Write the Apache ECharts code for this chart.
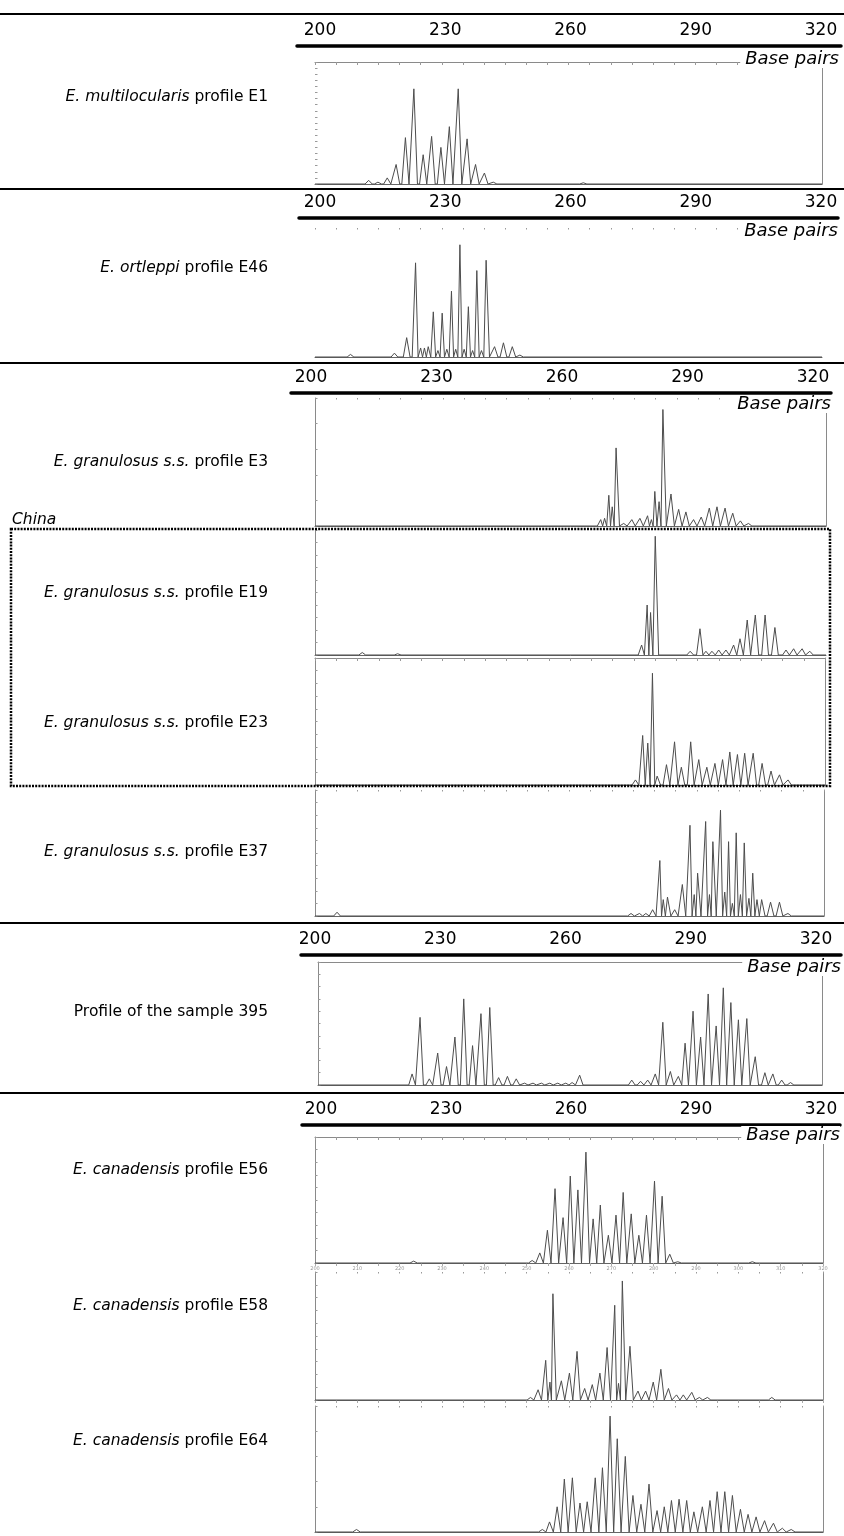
<!DOCTYPE html>
<html><head><meta charset="utf-8">
<script src="https://cdn.jsdelivr.net/npm/echarts@6/dist/echarts.min.js"></script>
<style>html,body{margin:0;padding:0;background:#fff}#c{width:844px;height:1536px}</style>
</head><body><div id="c"></div><script>
// ---- tick labels of the base-pair scale ----
const tickLabels = [200, 230, 260, 290, 320];
const axisName = 'Base pairs';

// ---- peaks: [base pairs, relative height %] ----
const E1 = [[212.7,3],[214.9,1.5],[217.1,5],[219.2,16],[221.4,38],[223.4,78],[225.6,24],[227.6,39],[229.8,30],[231.8,47],[233.9,78],[236.0,37],[238.0,16],[240.1,9],[242.2,1.5],[263.5,1]];
const E46 = [[208.4,2],[218.8,3],[221.7,15],[223.8,73],[225.0,7],[225.9,7],[226.8,8],[228.0,35],[229.1,5],[230.1,34],[231.2,6],[232.3,51],[233.3,6],[234.3,87],[235.3,6],[236.3,39],[237.3,5],[238.3,67],[239.4,5],[240.5,75],[242.5,8],[244.6,11],[246.7,8],[248.5,1.5]];
const E3 = [[267.1,5],[268.0,6],[269.0,24],[269.8,15],[270.7,61],[272.5,2],[274.4,5],[276.3,6],[278.1,8],[279.0,5],[279.8,27],[280.8,19],[281.7,91],[283.6,25],[285.4,13],[287.1,11],[288.9,5],[290.7,7],[292.6,14],[294.4,15],[296.3,14],[298.1,10],[299.9,4],[301.8,2]];
const E19 = [[211.1,2],[219.4,1],[276.7,8],[278.0,40],[278.8,34],[279.9,95],[288.1,3],[290.4,21],[291.8,3],[293.2,3],[294.8,4],[296.5,4],[298.3,8],[299.8,13],[301.5,28],[303.4,32],[305.7,32],[308.0,22],[310.6,4],[312.4,5],[314.4,5],[316.2,3]];
const E23 = [[275.4,4],[277.1,39],[278.3,33],[279.4,88],[280.5,7],[282.7,16],[284.6,34],[286.2,14],[288.4,34],[290.3,20],[292.2,14],[294.1,17],[295.9,20],[297.6,26],[299.4,24],[301.1,25],[303.1,25],[305.2,17],[307.3,11],[309.3,8],[311.3,4]];
const E37 = [[205.2,3],[274.5,2],[276.5,2],[278.0,2],[279.6,5],[281.3,44],[282.1,13],[283.1,15],[284.8,5],[286.6,25],[288.4,72],[289.4,17],[290.2,34],[292.1,75],[293.0,17],[293.8,59],[295.6,84],[296.6,19],[297.5,59],[298.4,10],[299.3,66],[300.3,17],[301.2,58],[302.3,14],[303.2,34],[304.2,13],[305.3,13],[307.4,11],[309.5,11],[311.5,2]];
const S395 = [[222.4,9],[224.3,55],[226.5,5],[228.5,26],[230.6,15],[232.6,39],[234.7,70],[236.8,32],[238.8,58],[240.9,63],[243.0,6],[245.1,7],[247.2,5],[249.2,1.5],[251.2,1.5],[253.2,1.5],[255.2,1.5],[257.1,1.5],[259.0,1.5],[260.5,2],[262.3,8],[274.7,4],[276.8,3],[278.5,4],[280.3,9],[282.1,51],[283.9,11],[285.8,7],[287.4,34],[289.3,60],[291.1,39],[292.9,74],[294.8,48],[296.5,79],[298.3,67],[300.1,53],[302.1,54],[304.1,23],[306.4,10],[308.3,9],[310.4,4],[312.5,2]];
const E56 = [[223.3,1.5],[251.3,2],[253.1,8],[254.9,26],[256.7,59],[258.6,36],[260.3,69],[262.1,58],[264.0,88],[265.7,35],[267.4,46],[269.3,22],[271.1,38],[272.8,56],[274.7,39],[276.5,22],[278.3,38],[280.2,65],[282.0,53],[283.8,7],[285.7,1],[303.3,1]];
const E58 = [[250.9,2],[252.7,8],[254.5,31],[255.5,14],[256.2,83],[258.2,15],[260.1,21],[261.9,38],[263.7,9],[265.5,12],[267.3,21],[269.0,41],[270.8,74],[271.7,13],[272.6,93],[274.4,42],[276.3,7],[278.1,7],[279.9,14],[281.7,24],[283.5,9],[285.4,4],[287.0,4],[289.0,6],[290.8,2],[292.7,2],[307.9,2]];
const E64 = [[209.8,2],[253.7,2],[255.4,8],[257.2,20],[258.9,42],[260.8,43],[262.6,23],[264.3,24],[266.2,43],[267.9,51],[269.7,92],[271.4,74],[273.3,60],[275.1,29],[277.0,22],[278.9,38],[280.8,17],[282.5,20],[284.2,25],[286.0,26],[287.8,25],[289.5,16],[291.5,20],[293.3,25],[295.0,32],[296.8,32],[298.6,29],[300.5,18],[302.3,14],[304.2,12],[306.2,9],[308.3,7],[310.4,3],[312.5,2]];

// ---- panel names (italic part, plain part) ----
const names = [
  ['E. multilocularis', ' profile E1'],
  ['E. ortleppi', ' profile E46'],
  ['E. granulosus s.s.', ' profile E3'],
  ['E. granulosus s.s.', ' profile E19'],
  ['E. granulosus s.s.', ' profile E23'],
  ['E. granulosus s.s.', ' profile E37'],
  ['', 'Profile of the sample 395'],
  ['E. canadensis', ' profile E56'],
  ['E. canadensis', ' profile E58'],
  ['E. canadensis', ' profile E64']
];
const regionLabel = 'China';

const FONT = '"DejaVu Sans", "Liberation Sans", sans-serif';
const chart = echarts.init(document.getElementById('c'));
const grid = [], xAxis = [], yAxis = [], series = [], graphic = [];

// label rows (scale bars)
const rows = [
  {lineY:46, left:297, right:841, x200:320, x320:821, bpY:59, bpX:839},
  {lineY:218, left:299, right:838, x200:320, x320:821, bpY:231, bpX:838},
  {lineY:393, left:291, right:831, x200:311, x320:813, bpY:404, bpX:831},
  {lineY:955, left:301, right:841, x200:315, x320:816, bpY:967, bpX:841},
  {lineY:1125, left:302, right:840, x200:321, x320:821, bpY:1135, bpX:840}
];
rows.forEach(r => {
  const ppb = (r.x320 - r.x200) / 120;
  const gi = grid.length;
  grid.push({left:r.left, top:r.lineY, width:r.right - r.left, height:1});
  xAxis.push({gridIndex:gi, type:'value', position:'top',
    min: 200 - (r.x200 - r.left) / ppb, max: 320 + (r.right - r.x320) / ppb,
    axisLine:{show:true, onZero:false, lineStyle:{color:'#000', width:3.5}},
    axisTick:{show:false}, splitLine:{show:false},
    axisLabel:{customValues: tickLabels, color:'#000', fontSize:17, fontFamily:FONT, margin:7}});
  yAxis.push({gridIndex:gi, type:'value', show:false, min:0, max:1});
  graphic.push({type:'text', z:100, x:r.bpX, y:r.bpY,
    style:{text:axisName, font:'italic 18px ' + FONT, fill:'#000', align:'right', verticalAlign:'middle',
      backgroundColor:'#fff', padding:[0,0,0,5]}});
});

// panels
const panels = [
  {data:E1,  left:315, width:507, top:62,   height:122, w:0.85, topLine:true,  topTicks:true, leftLine:false, yTick:5,  rightLine:true,  labelY:97},
  {data:E46, left:315, width:507, top:228,  height:129, w:0.8,  topLine:false, topTicks:true, leftLine:false, yTick:0,  rightLine:false, labelY:268},
  {data:E3,  left:315, width:511, top:398,  height:128, w:0.8,  topLine:false, topTicks:true, leftLine:true,  yTick:20, rightLine:true,  labelY:462},
  {data:E19, left:315, width:511, top:530,  height:125, w:0.8,  topLine:false, topTicks:false,leftLine:true,  yTick:10, rightLine:false, labelY:593},
  {data:E23, left:315, width:510, top:658,  height:127, w:0.8,  topLine:true,  topTicks:true, leftLine:true,  yTick:10, rightLine:true,  labelY:723},
  {data:E37, left:315, width:509, top:790,  height:126, w:0.8,  topLine:false, topTicks:true, leftLine:true,  yTick:10, rightLine:true,  labelY:852},
  {data:S395,left:318, width:504, top:962,  height:123, w:0.8,  topLine:true,  topTicks:false,leftLine:true,  yTick:10, rightLine:true,  labelY:1012},
  {data:E56, left:315, width:508, top:1137, height:126, w:0.85, topLine:true,  topTicks:true, leftLine:true,  yTick:10, rightLine:true,  labelY:1170, bottomTicks:true},
  {data:E58, left:315, width:508, top:1272, height:128, w:0.8,  topLine:false, topTicks:true, leftLine:true,  yTick:10, rightLine:true,  labelY:1306, bottomTicks:true, tinyLabels:true},
  {data:E64, left:315, width:508, top:1406, height:126, w:0.9,  topLine:false, topTicks:true, leftLine:true,  yTick:20, rightLine:true,  labelY:1441}
];

function trace(peaks, w) {
  const s = peaks.slice().sort((a, b) => a[0] - b[0]);
  const pts = [[200, 0]];
  s.forEach((p, i) => {
    const prev = i > 0 ? s[i - 1][0] : -Infinity;
    const next = i < s.length - 1 ? s[i + 1][0] : Infinity;
    pts.push([Math.max(p[0] - w, (p[0] + prev) / 2), 0], [p[0], p[1]], [Math.min(p[0] + w, (p[0] + next) / 2), 0]);
  });
  pts.push([320, 0]);
  return pts;
}

const boxColor = '#8a8a8a';
panels.forEach((p, k) => {
  const gi = grid.length;
  grid.push({left:p.left, top:p.top, width:p.width, height:p.height});
  const xb = xAxis.length;
  xAxis.push({gridIndex:gi, type:'value', position:'bottom', min:200, max:320, interval:5,
    axisLine:{show:true, onZero:false, lineStyle:{color:'#666', width:1}},
    axisTick:{show:!!p.bottomTicks, inside:false, length:3, lineStyle:{color:'#aaa'}},
    axisLabel:{show:false}, splitLine:{show:false}});
  xAxis.push({gridIndex:gi, type:'value', position:'top', min:200, max:320, interval: p.tinyLabels ? 10 : 5,
    axisLine:{show:p.topLine, onZero:false, lineStyle:{color:boxColor, width:1}},
    axisTick:{show:p.topTicks, inside:true, length: p.topLine ? 3 : 1.5, lineStyle:{color:'#999'}},
    minorTick:{show:!!p.tinyLabels, splitNumber:2, length:1.5, lineStyle:{color:'#999'}},
    axisLabel:{show:!!p.tinyLabels, fontSize:5, color:'#999', margin:1, fontFamily:FONT},
    splitLine:{show:false}});
  const yl = yAxis.length;
  yAxis.push({gridIndex:gi, type:'value', position:'left', min:0, max:100, interval: p.yTick || 10,
    axisLine:{show:p.leftLine, onZero:false, lineStyle:{color:boxColor, width:1}},
    axisTick:{show:p.yTick > 0, inside:true, length:2.5, lineStyle:{color:'#999'}},
    axisLabel:{show:false}, splitLine:{show:false}});
  yAxis.push({gridIndex:gi, type:'value', position:'right', min:0, max:100,
    axisLine:{show:p.rightLine, onZero:false, lineStyle:{color:boxColor, width:1}},
    axisTick:{show:false}, axisLabel:{show:false}, splitLine:{show:false}});
  series.push({type:'line', xAxisIndex:xb, yAxisIndex:yl, data:trace(p.data, p.w),
    symbol:'none', clip:false, silent:true, z:3,
    lineStyle:{color:'#4d4d4d', width:1}});
  const nm = names[k];
  graphic.push({type:'text', z:100, x:268, y:p.labelY,
    style:{text:(nm[0] ? '{i|' + nm[0] + '}' : '') + nm[1], align:'right', verticalAlign:'middle',
      font:'15.5px ' + FONT, fill:'#000',
      rich:{i:{fontStyle:'italic', fontSize:15.5, fontFamily:FONT, fill:'#000'}}}});
});

// separators
[14, 189, 363, 923, 1093].forEach(y => {
  graphic.push({type:'line', z:90, shape:{x1:0, y1:y, x2:844, y2:y}, style:{stroke:'#000', lineWidth:2}});
});
// dotted region box
graphic.push({type:'rect', z:95, shape:{x:11, y:529, width:819, height:257},
  style:{fill:'none', stroke:'#000', lineWidth:2.5, lineDash:[2, 1.2]}});
graphic.push({type:'text', z:100, x:12, y:520,
  style:{text:regionLabel, font:'italic 15.5px ' + FONT, fill:'#000', align:'left', verticalAlign:'middle'}});

chart.setOption({animation:false, backgroundColor:'#fff', grid, xAxis, yAxis, series, graphic});
</script></body></html>
